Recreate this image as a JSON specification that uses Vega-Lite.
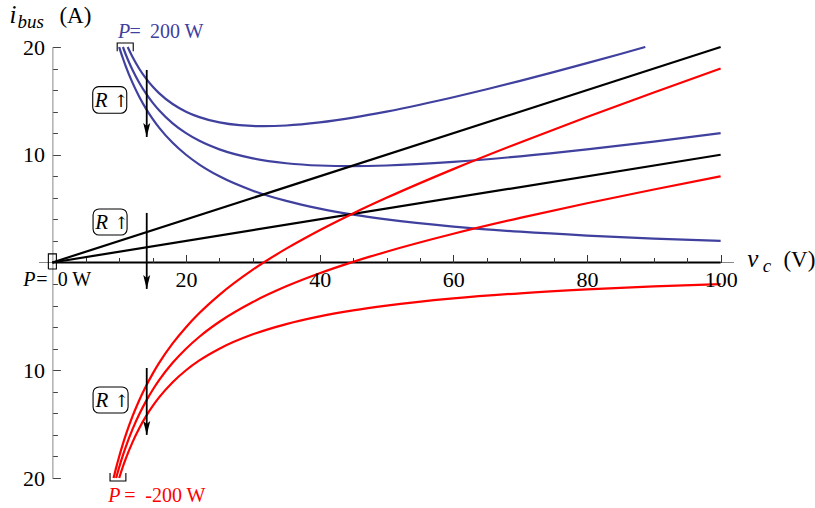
{
  "$schema": "https://vega.github.io/schema/vega-lite/v6.json",
  "width": 695,
  "height": 431,
  "autosize": {"type": "none"},
  "padding": {"left": 39, "top": 47, "right": 81, "bottom": 30},
  "background": "white",
  "config": {
    "view": {"stroke": null},
    "font": "Liberation Serif",
    "axis": {"labelFont": "Liberation Serif", "labelFontSize": 22, "labelColor": "black", "grid": false, "title": null}
  },
  "datasets": {
    "axisline": [{"a": -2, "b": 102, "y": 0}],
    "curves": [
      {"c": "b5", "v": 11.27, "i": 20.0}, {"c": "b5", "v": 11.5, "i": 19.691}, {"c": "b5", "v": 12, "i": 19.067}, {"c": "b5", "v": 13, "i": 17.985}, {"c": "b5", "v": 14, "i": 17.086}, {"c": "b5", "v": 15, "i": 16.333}, {"c": "b5", "v": 16, "i": 15.7}, {"c": "b5", "v": 18, "i": 14.711}, {"c": "b5", "v": 20, "i": 14.0}, {"c": "b5", "v": 22, "i": 13.491}, {"c": "b5", "v": 25, "i": 13.0}, {"c": "b5", "v": 28, "i": 12.743}, {"c": "b5", "v": 31.6, "i": 12.649}, {"c": "b5", "v": 35, "i": 12.714}, {"c": "b5", "v": 40, "i": 13.0}, {"c": "b5", "v": 45, "i": 13.444}, {"c": "b5", "v": 50, "i": 14.0}, {"c": "b5", "v": 55, "i": 14.636}, {"c": "b5", "v": 60, "i": 15.333}, {"c": "b5", "v": 65, "i": 16.077}, {"c": "b5", "v": 70, "i": 16.857}, {"c": "b5", "v": 75, "i": 17.667}, {"c": "b5", "v": 80, "i": 18.5}, {"c": "b5", "v": 85, "i": 19.353}, {"c": "b5", "v": 88.73, "i": 20.0},
      {"c": "b10", "v": 10.56, "i": 20.0}, {"c": "b10", "v": 11, "i": 19.282}, {"c": "b10", "v": 11.5, "i": 18.541}, {"c": "b10", "v": 12, "i": 17.867}, {"c": "b10", "v": 13, "i": 16.685}, {"c": "b10", "v": 14, "i": 15.686}, {"c": "b10", "v": 15, "i": 14.833}, {"c": "b10", "v": 16, "i": 14.1}, {"c": "b10", "v": 18, "i": 12.911}, {"c": "b10", "v": 20, "i": 12.0}, {"c": "b10", "v": 22, "i": 11.291}, {"c": "b10", "v": 25, "i": 10.5}, {"c": "b10", "v": 30, "i": 9.667}, {"c": "b10", "v": 35, "i": 9.214}, {"c": "b10", "v": 40, "i": 9.0}, {"c": "b10", "v": 44.7, "i": 8.944}, {"c": "b10", "v": 50, "i": 9.0}, {"c": "b10", "v": 60, "i": 9.333}, {"c": "b10", "v": 70, "i": 9.857}, {"c": "b10", "v": 80, "i": 10.5}, {"c": "b10", "v": 90, "i": 11.222}, {"c": "b10", "v": 100, "i": 12.0},
      {"c": "binf", "v": 10, "i": 20.0}, {"c": "binf", "v": 10.5, "i": 19.048}, {"c": "binf", "v": 11, "i": 18.182}, {"c": "binf", "v": 12, "i": 16.667}, {"c": "binf", "v": 13, "i": 15.385}, {"c": "binf", "v": 14, "i": 14.286}, {"c": "binf", "v": 15, "i": 13.333}, {"c": "binf", "v": 16, "i": 12.5}, {"c": "binf", "v": 18, "i": 11.111}, {"c": "binf", "v": 20, "i": 10.0}, {"c": "binf", "v": 22, "i": 9.091}, {"c": "binf", "v": 25, "i": 8.0}, {"c": "binf", "v": 30, "i": 6.667}, {"c": "binf", "v": 35, "i": 5.714}, {"c": "binf", "v": 40, "i": 5.0}, {"c": "binf", "v": 45, "i": 4.444}, {"c": "binf", "v": 50, "i": 4.0}, {"c": "binf", "v": 60, "i": 3.333}, {"c": "binf", "v": 70, "i": 2.857}, {"c": "binf", "v": 80, "i": 2.5}, {"c": "binf", "v": 90, "i": 2.222}, {"c": "binf", "v": 100, "i": 2.0},
      {"c": "k5", "v": 0, "i": 0}, {"c": "k5", "v": 100, "i": 20},
      {"c": "k10", "v": 0, "i": 0}, {"c": "k10", "v": 100, "i": 10},
      {"c": "kinf", "v": 0, "i": 0}, {"c": "kinf", "v": 100, "i": 0},
      {"c": "r5", "v": 9.16, "i": -20.0}, {"c": "r5", "v": 9.5, "i": -19.153}, {"c": "r5", "v": 10, "i": -18.0}, {"c": "r5", "v": 10.5, "i": -16.948}, {"c": "r5", "v": 11, "i": -15.982}, {"c": "r5", "v": 12, "i": -14.267}, {"c": "r5", "v": 13, "i": -12.785}, {"c": "r5", "v": 14, "i": -11.486}, {"c": "r5", "v": 15, "i": -10.333}, {"c": "r5", "v": 16, "i": -9.3}, {"c": "r5", "v": 18, "i": -7.511}, {"c": "r5", "v": 20, "i": -6.0}, {"c": "r5", "v": 22, "i": -4.691}, {"c": "r5", "v": 25, "i": -3.0}, {"c": "r5", "v": 30, "i": -0.667}, {"c": "r5", "v": 35, "i": 1.286}, {"c": "r5", "v": 40, "i": 3.0}, {"c": "r5", "v": 45, "i": 4.556}, {"c": "r5", "v": 50, "i": 6.0}, {"c": "r5", "v": 60, "i": 8.667}, {"c": "r5", "v": 70, "i": 11.143}, {"c": "r5", "v": 80, "i": 13.5}, {"c": "r5", "v": 90, "i": 15.778}, {"c": "r5", "v": 100, "i": 18.0},
      {"c": "r10", "v": 9.54, "i": -20.0}, {"c": "r10", "v": 10, "i": -19.0}, {"c": "r10", "v": 10.5, "i": -17.998}, {"c": "r10", "v": 11, "i": -17.082}, {"c": "r10", "v": 12, "i": -15.467}, {"c": "r10", "v": 13, "i": -14.085}, {"c": "r10", "v": 14, "i": -12.886}, {"c": "r10", "v": 15, "i": -11.833}, {"c": "r10", "v": 16, "i": -10.9}, {"c": "r10", "v": 18, "i": -9.311}, {"c": "r10", "v": 20, "i": -8.0}, {"c": "r10", "v": 22, "i": -6.891}, {"c": "r10", "v": 25, "i": -5.5}, {"c": "r10", "v": 30, "i": -3.667}, {"c": "r10", "v": 35, "i": -2.214}, {"c": "r10", "v": 40, "i": -1.0}, {"c": "r10", "v": 45, "i": 0.056}, {"c": "r10", "v": 50, "i": 1.0}, {"c": "r10", "v": 60, "i": 2.667}, {"c": "r10", "v": 70, "i": 4.143}, {"c": "r10", "v": 80, "i": 5.5}, {"c": "r10", "v": 90, "i": 6.778}, {"c": "r10", "v": 100, "i": 8.0},
      {"c": "rinf", "v": 10, "i": -20.0}, {"c": "rinf", "v": 10.5, "i": -19.048}, {"c": "rinf", "v": 11, "i": -18.182}, {"c": "rinf", "v": 12, "i": -16.667}, {"c": "rinf", "v": 13, "i": -15.385}, {"c": "rinf", "v": 14, "i": -14.286}, {"c": "rinf", "v": 15, "i": -13.333}, {"c": "rinf", "v": 16, "i": -12.5}, {"c": "rinf", "v": 18, "i": -11.111}, {"c": "rinf", "v": 20, "i": -10.0}, {"c": "rinf", "v": 22, "i": -9.091}, {"c": "rinf", "v": 25, "i": -8.0}, {"c": "rinf", "v": 30, "i": -6.667}, {"c": "rinf", "v": 35, "i": -5.714}, {"c": "rinf", "v": 40, "i": -5.0}, {"c": "rinf", "v": 45, "i": -4.444}, {"c": "rinf", "v": 50, "i": -4.0}, {"c": "rinf", "v": 60, "i": -3.333}, {"c": "rinf", "v": 70, "i": -2.857}, {"c": "rinf", "v": 80, "i": -2.5}, {"c": "rinf", "v": 90, "i": -2.222}, {"c": "rinf", "v": 100, "i": -2.0}
    ],
    "brackets": [
      {"b": "top", "k": 0, "x": 9.7, "y": 19.6}, {"b": "top", "k": 1, "x": 9.7, "y": 20.37}, {"b": "top", "k": 2, "x": 12.1, "y": 20.37}, {"b": "top", "k": 3, "x": 12.1, "y": 19.6},
      {"b": "bot", "k": 0, "x": 8.63, "y": -19.54}, {"b": "bot", "k": 1, "x": 8.63, "y": -20.28}, {"b": "bot", "k": 2, "x": 11.0, "y": -20.28}, {"b": "bot", "k": 3, "x": 11.0, "y": -19.54},
      {"b": "zero", "k": 0, "x": -0.6, "y": -0.6}, {"b": "zero", "k": 1, "x": -0.6, "y": 0.8}, {"b": "zero", "k": 2, "x": 0.6, "y": 0.8}, {"b": "zero", "k": 3, "x": 0.6, "y": -0.6}, {"b": "zero", "k": 4, "x": -0.6, "y": -0.6}
    ],
    "rboxes": [
      {"x1": 6.04, "x2": 11.13, "y1": 16.32, "y2": 13.85},
      {"x1": 6.09, "x2": 11.18, "y1": 4.97, "y2": 2.55},
      {"x1": 6.09, "x2": 11.33, "y1": -11.55, "y2": -13.97}
    ],
    "arrows": [
      {"x": 14.12, "ya": 17.87, "yb": 11.65},
      {"x": 14.12, "ya": 4.6, "yb": -2.45},
      {"x": 14.12, "ya": -9.79, "yb": -16.0}
    ],
    "ann_it": [
      {"x": 9.81, "y": 20.86, "t": "P", "c": "blue"},
      {"x": 8.36, "y": -22.2, "t": "P", "c": "red"},
      {"x": -4.35, "y": -2.15, "t": "P", "c": "black"}
    ],
    "box_it": [
      {"x": 6.35, "y": 14.45, "t": "R"},
      {"x": 6.4, "y": 3.13, "t": "R"},
      {"x": 6.45, "y": -13.39, "t": "R"}
    ],
    "box_rm": [
      {"x": 9.2, "y": 14.45, "t": "↑"},
      {"x": 9.25, "y": 3.13, "t": "↑"},
      {"x": 9.3, "y": -13.39, "t": "↑"}
    ],
    "ann_rm": [
      {"x": 11.55, "y": 20.86, "t": "=", "c": "blue"},
      {"x": 14.6, "y": 20.86, "t": "200 W", "c": "blue"},
      {"x": 10.75, "y": -22.2, "t": "=", "c": "red"},
      {"x": 13.9, "y": -22.2, "t": "-200 W", "c": "red"},
      {"x": -2.4, "y": -2.15, "t": "=", "c": "black"},
      {"x": 0.8, "y": -2.15, "t": "0 W", "c": "black"}
    ],
    "title_it": [
      {"x": -6.4, "y": 22.2, "t": "i"},
      {"x": 104.0, "y": -0.39, "t": "v"}
    ],
    "title_sub": [
      {"x": -5.2, "y": 21.8, "t": "bus"},
      {"x": 106.3, "y": -0.9, "t": "c"}
    ],
    "title_rm": [
      {"x": 1.05, "y": 22.2, "t": "(A)"},
      {"x": 109.4, "y": -0.42, "t": "(V)"}
    ]
  },
  "layer": [
    {
      "data": {"name": "axisline"},
      "mark": {"type": "rule", "color": "#888888", "strokeWidth": 1},
      "encoding": {
        "x": {"field": "a", "type": "quantitative", "scale": {"domain": [-2, 102], "nice": false, "zero": false},
              "axis": {"orient": "bottom", "offset": -215.5, "values": [5,10,15,20,25,30,35,40,45,50,55,60,65,70,75,80,85,90,95,100], "tickSize": -5, "labels": false, "domain": false, "tickColor": "#333333", "zindex": 1}},
        "x2": {"field": "b"},
        "y": {"field": "y", "type": "quantitative", "scale": {"domain": [-20, 20], "nice": false, "zero": false},
              "axis": {"orient": "left", "offset": -13.4, "values": [-18,-16,-14,-12,-10,-8,-6,-4,-2,2,4,6,8,10,12,14,16,18,20,-20], "tickSize": -5, "labels": false, "domain": false, "tickColor": "#444444"}}
      }
    },
    {
      "data": {"name": "curves"},
      "mark": {"type": "line", "strokeWidth": 2.2, "interpolate": "monotone"},
      "encoding": {
        "x": {"field": "v", "type": "quantitative", "scale": {"domain": [-2, 102], "nice": false, "zero": false},
              "axis": {"orient": "bottom", "offset": -215.5, "values": [20, 40, 60, 80, 100], "tickSize": -8, "domain": false, "tickColor": "#333333", "labelPadding": 15, "labelBaseline": "top", "labelFont": "Liberation Serif", "zindex": 1}},
        "y": {"field": "i", "type": "quantitative", "scale": {"domain": [-20, 20], "nice": false, "zero": false},
              "axis": {"orient": "left", "offset": -13.4, "values": [-20, -10, 10, 20], "tickSize": -8, "domainColor": "#888888", "tickColor": "#444444", "labelPadding": 16, "labelFont": "Liberation Serif", "labelExpr": "abs(datum.value)"}},
        "color": {"field": "c", "type": "nominal", "legend": null,
                  "scale": {"domain": ["b5","b10","binf","k5","k10","kinf","r5","r10","rinf"],
                            "range": ["#40409f","#40409f","#40409f","#000000","#000000","#000000","#ff0000","#ff0000","#ff0000"]}}
      }
    },
    {
      "data": {"name": "brackets"},
      "mark": {"type": "line", "color": "black", "strokeWidth": 1.1},
      "encoding": {
        "x": {"field": "x", "type": "quantitative", "axis": null},
        "y": {"field": "y", "type": "quantitative", "axis": null},
        "detail": {"field": "b"},
        "order": {"field": "k"}
      }
    },
    {
      "data": {"name": "rboxes"},
      "mark": {"type": "rect", "fill": "white", "fillOpacity": 0, "stroke": "black", "strokeWidth": 1.1, "cornerRadius": 6},
      "encoding": {
        "x": {"field": "x1", "type": "quantitative", "axis": null},
        "x2": {"field": "x2"},
        "y": {"field": "y1", "type": "quantitative", "axis": null},
        "y2": {"field": "y2"}
      }
    },
    {
      "data": {"name": "arrows"},
      "mark": {"type": "rule", "color": "black", "strokeWidth": 1.8},
      "encoding": {
        "x": {"field": "x", "type": "quantitative", "axis": null},
        "y": {"field": "ya", "type": "quantitative", "axis": null},
        "y2": {"field": "yb"}
      }
    },
    {
      "data": {"name": "arrows"},
      "mark": {"type": "point", "shape": "M0,1L-0.5,-1L0,-0.55L0.5,-1Z", "size": 196, "filled": true, "color": "black", "opacity": 1, "yOffset": -7},
      "encoding": {
        "x": {"field": "x", "type": "quantitative", "axis": null},
        "y": {"field": "yb", "type": "quantitative", "axis": null}
      }
    },
    {
      "data": {"name": "ann_it"},
      "mark": {"type": "text", "font": "Liberation Serif", "fontStyle": "italic", "fontSize": 20, "align": "left", "baseline": "alphabetic"},
      "encoding": {
        "x": {"field": "x", "type": "quantitative", "axis": null},
        "y": {"field": "y", "type": "quantitative", "axis": null},
        "text": {"field": "t"},
        "color": {"field": "c", "type": "nominal", "legend": null, "scale": {"domain": ["blue", "red", "black"], "range": ["#40409f", "#ff0000", "#000000"]}}
      }
    },
    {
      "data": {"name": "ann_rm"},
      "mark": {"type": "text", "font": "Liberation Serif", "fontSize": 20, "align": "left", "baseline": "alphabetic"},
      "encoding": {
        "x": {"field": "x", "type": "quantitative", "axis": null},
        "y": {"field": "y", "type": "quantitative", "axis": null},
        "text": {"field": "t"},
        "color": {"field": "c", "type": "nominal", "legend": null, "scale": {"domain": ["blue", "red", "black"], "range": ["#40409f", "#ff0000", "#000000"]}}
      }
    },
    {
      "data": {"name": "box_it"},
      "mark": {"type": "text", "font": "Liberation Serif", "fontStyle": "italic", "fontSize": 21, "align": "left", "baseline": "alphabetic", "color": "black"},
      "encoding": {
        "x": {"field": "x", "type": "quantitative", "axis": null},
        "y": {"field": "y", "type": "quantitative", "axis": null},
        "text": {"field": "t"}
      }
    },
    {
      "data": {"name": "box_rm"},
      "mark": {"type": "text", "font": "DejaVu Serif", "fontSize": 17, "align": "left", "baseline": "alphabetic", "color": "black"},
      "encoding": {
        "x": {"field": "x", "type": "quantitative", "axis": null},
        "y": {"field": "y", "type": "quantitative", "axis": null},
        "text": {"field": "t"}
      }
    },
    {
      "data": {"name": "title_it"},
      "mark": {"type": "text", "font": "Liberation Serif", "fontStyle": "italic", "fontSize": 25, "align": "left", "baseline": "alphabetic", "color": "black"},
      "encoding": {
        "x": {"field": "x", "type": "quantitative", "axis": null},
        "y": {"field": "y", "type": "quantitative", "axis": null},
        "text": {"field": "t"}
      }
    },
    {
      "data": {"name": "title_sub"},
      "mark": {"type": "text", "font": "Liberation Serif", "fontStyle": "italic", "fontSize": 19, "align": "left", "baseline": "alphabetic", "color": "black"},
      "encoding": {
        "x": {"field": "x", "type": "quantitative", "axis": null},
        "y": {"field": "y", "type": "quantitative", "axis": null},
        "text": {"field": "t"}
      }
    },
    {
      "data": {"name": "title_rm"},
      "mark": {"type": "text", "font": "Liberation Serif", "fontSize": 23, "align": "left", "baseline": "alphabetic", "color": "black"},
      "encoding": {
        "x": {"field": "x", "type": "quantitative", "axis": null},
        "y": {"field": "y", "type": "quantitative", "axis": null},
        "text": {"field": "t"}
      }
    }
  ],
  "resolve": {"axis": {"x": "independent", "y": "independent"}, "scale": {"color": "independent"}}
}
